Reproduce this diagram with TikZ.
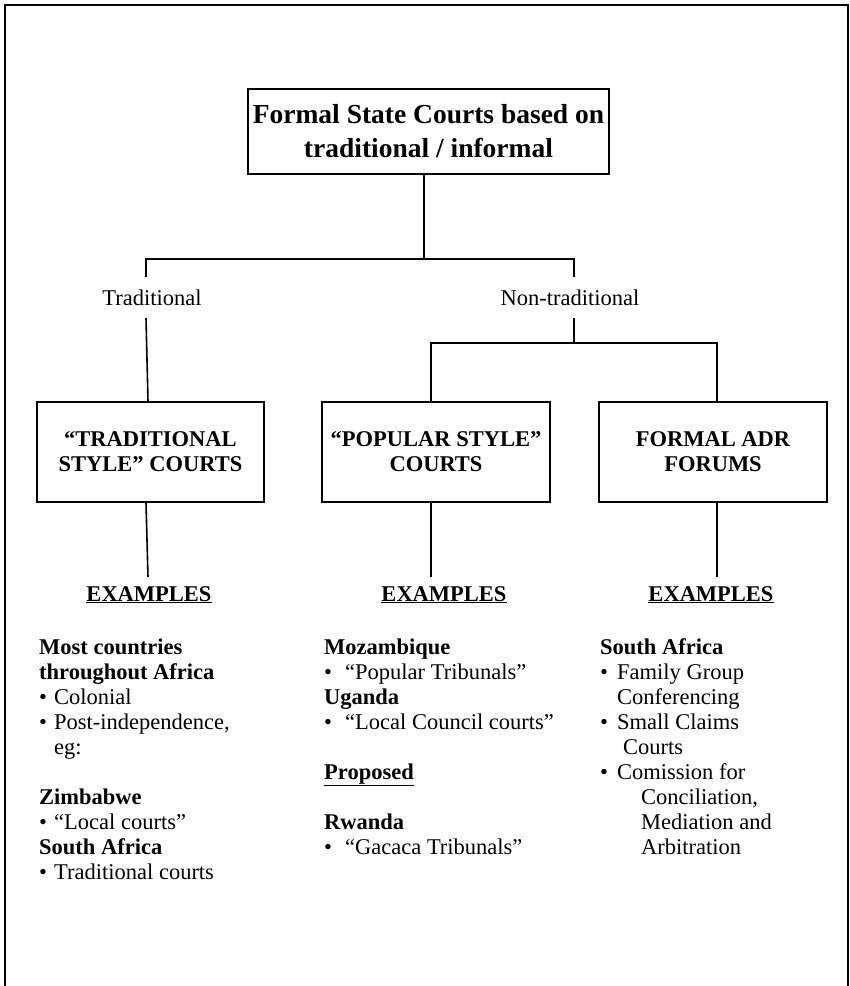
\documentclass[tikz,border=0pt]{standalone}
\usepackage{fontspec}
\setmainfont{Liberation Serif}
\newcommand\lline[1]{\hbox{#1}}
\newcommand\bul[2]{\hbox{\makebox[#1][l]{\textbullet}#2}}
\newcommand\ind[2]{\hbox{\hspace*{#1}#2}}
\begin{document}
\begin{tikzpicture}[x=1pt,y=-1pt,
  frame/.style={line width=1.5pt},
  titlebox/.style={draw, line width=1.6pt, inner sep=0pt, minimum width=361pt, minimum height=85pt,
    align=center, font=\fontsize{27.5}{34}\selectfont\bfseries},
  courtbox/.style={draw, line width=1.6pt, inner sep=0pt, minimum width=227pt, minimum height=100pt,
    align=center, font=\fontsize{22.5}{25}\selectfont\bfseries},
  conn/.style={line width=2.2pt},
  thinconn/.style={line width=1.6pt},
  branchlbl/.style={inner sep=0pt, font=\fontsize{22.5}{25}\selectfont},
  exlbl/.style={inner sep=0pt, anchor=base, font=\fontsize{22.5}{25}\selectfont\bfseries},
  listcol/.style={inner sep=0pt, anchor=base west, font=\fontsize{22.5}{25}\selectfont}
]
\useasboundingbox (0,0) rectangle (850,986);
\draw[frame] (5,990) -- (5,5) -- (848,5) -- (848,990);

% top box
\node[titlebox] (top) at (428.5,131.5) {Formal State Courts based on\\traditional / informal};

% branch
\coordinate (j0) at (424,259);
\coordinate (jl) at (146,259);
\coordinate (jr) at (574,259);
\draw[conn] (top.south -| j0) -- (j0);
\draw[conn] (jl) ++(0,18) -- (jl) -- (jr) -- ++(0,18);

\node[branchlbl] (trad) at (152,298) {Traditional};
\node[branchlbl] (nontrad) at (570,298) {Non-traditional};

% court boxes
\node[courtbox] (b1) at (150.5,452) {“TRADITIONAL\\STYLE” COURTS};
\node[courtbox, minimum width=228pt] (b2) at (436,452) {“POPULAR STYLE”\\COURTS};
\node[courtbox, minimum width=228pt] (b3) at (713,452) {FORMAL ADR\\FORUMS};

\coordinate (t1) at (146,318);
\draw[thinconn] (t1) -- ([xshift=-2.5pt]b1.north);
\coordinate (n1) at (574,318);
\coordinate (jm) at (574,343);
\draw[conn] (n1) -- (jm);
\draw[conn] ([xshift=-5pt]b2.north) |- (jm) -| ([xshift=4pt]b3.north);

% examples
\node[exlbl] (e1) at (149,601) {\underline{EXAMPLES}};
\node[exlbl] (e2) at (444,601) {\underline{EXAMPLES}};
\node[exlbl] (e3) at (711,601) {\underline{EXAMPLES}};

\coordinate (d1) at (148,577);
\coordinate (d2) at (431,577);
\coordinate (d3) at (717,577);
\draw[thinconn] ([xshift=-4.5pt]b1.south) -- (d1);
\draw[conn] ([xshift=-5pt]b2.south) -- (d2);
\draw[conn] ([xshift=4pt]b3.south) -- (d3);

% lists
\node[listcol] (l1) at (39,654) {\vtop{\fontsize{22.5}{25}\selectfont
  \lline{\bfseries Most countries}
  \lline{\bfseries throughout Africa}
  \bul{15pt}{Colonial}
  \bul{15pt}{Post-independence,}
  \ind{15pt}{eg:}
  \vskip 25pt
  \lline{\bfseries Zimbabwe}
  \bul{15pt}{“Local courts”}
  \lline{\bfseries South Africa}
  \bul{15pt}{Traditional courts}}};

\node[listcol] (l2) at (324,654) {\vtop{\fontsize{22.5}{25}\selectfont
  \lline{\bfseries Mozambique}
  \bul{21pt}{“Popular Tribunals”}
  \lline{\bfseries Uganda}
  \bul{21pt}{“Local Council courts”}
  \vskip 25pt
  \lline{\bfseries\underline{Proposed}}
  \vskip 25pt
  \lline{\bfseries Rwanda}
  \bul{21pt}{“Gacaca Tribunals”}}};

\node[listcol] (l3) at (600,654) {\vtop{\fontsize{22.5}{25}\selectfont
  \lline{\bfseries South Africa}
  \bul{17pt}{Family Group}
  \ind{17pt}{Conferencing}
  \bul{17pt}{Small Claims}
  \ind{23pt}{Courts}
  \bul{17pt}{Comission for}
  \ind{41pt}{Conciliation,}
  \ind{41pt}{Mediation and}
  \ind{41pt}{Arbitration}}};
\end{tikzpicture}
\end{document}
